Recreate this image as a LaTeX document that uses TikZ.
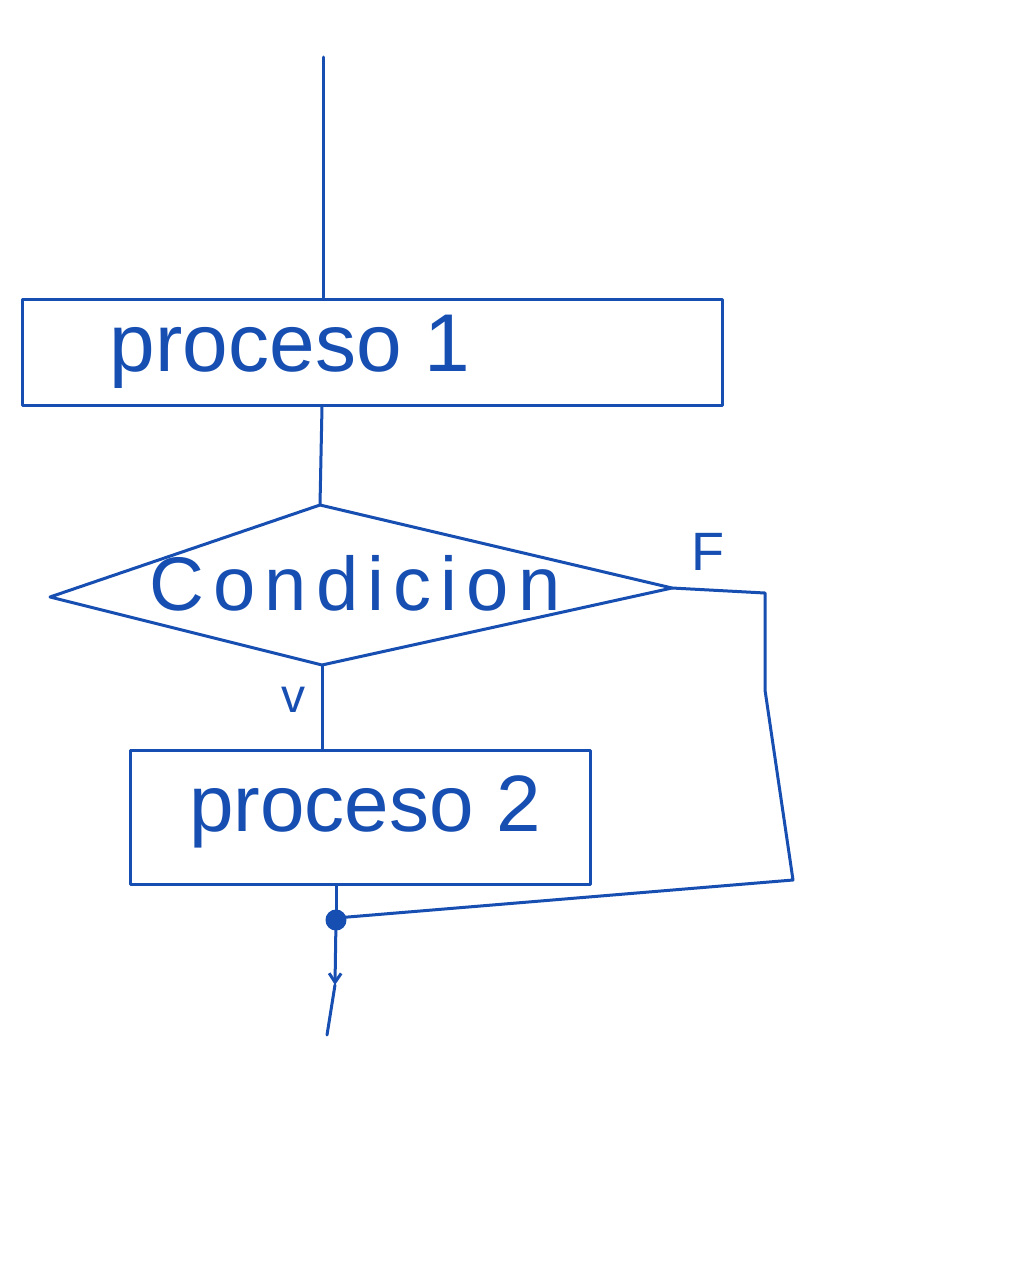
\documentclass[tikz,border=0pt]{standalone}
\usepackage{fontspec}
\setmainfont{Liberation Sans}
\usetikzlibrary{arrows.meta}
\definecolor{ink}{RGB}{22,78,178}
\begin{document}
\begin{tikzpicture}[x=1pt,y=-1pt,
  every path/.style={draw=ink, line width=3pt, line cap=round, line join=round},
  procbox/.style={draw=ink, line width=3pt, rectangle, inner sep=0pt, text=ink},
  lbl/.style={draw=none, text=ink, inner sep=0pt},
  flow/.style={draw=ink, line width=3pt},
  tip/.style={-{Straight Barb[length=9pt,width=12pt]}}
]
\useasboundingbox[fill=white, draw=none] (0,0) rectangle (1024,1280);

% start
\coordinate (start) at (323,57);

% process 1
\node[procbox, minimum width=700pt, minimum height=106pt] (p1) at (372,352) {};
\node[lbl, font=\fontsize{82}{90}\selectfont] (p1t) at (290,352) {proceso 1};

% decision
\coordinate (dt) at (320,505);
\coordinate (dl) at (50,597);
\coordinate (dr) at (672,588);
\coordinate (db) at (322,665);
\draw[flow] (dt) -- (dr) -- (db) -- (dl) -- cycle;
\node[lbl, font=\fontsize{76}{84}\selectfont\addfontfeature{LetterSpace=12}] (cond) at (355,583) {Condicion};

% labels
\node[lbl, font=\fontsize{48}{56}\selectfont] (vl) at (293,700) {v};
\node[lbl, font=\fontsize{54}{60}\selectfont] (fl) at (708,552) {F};

% process 2
\node[procbox, minimum width=460pt, minimum height=134pt] (p2) at (360,817) {};
\node[lbl, font=\fontsize{80}{90}\selectfont] (p2t) at (365,812) {proceso 2};

% junction and exit
\coordinate (jn) at (336,920);
\coordinate (mid) at (335,985);
\coordinate (endp) at (327,1035);
\coordinate (r1) at (765,593);
\coordinate (r2) at (765,690);
\coordinate (r3) at (793,880);

% connectors
\draw[flow] (start) -- (p1.north -| start);
\draw[flow] (p1.south -| 322,0) -- (dt);
\draw[flow] (db) -- (p2.north -| db);
\draw[flow] (p2.south -| jn) -- (jn);
\draw[flow] (dr) -- (r1) -- (r2) -- (r3) -- (jn |- 920,918) -- (jn);
\fill[ink] (jn) circle (9pt);
\draw[flow, tip] (jn) -- (mid);
\draw[flow] (mid) -- (endp);
\end{tikzpicture}
\end{document}
